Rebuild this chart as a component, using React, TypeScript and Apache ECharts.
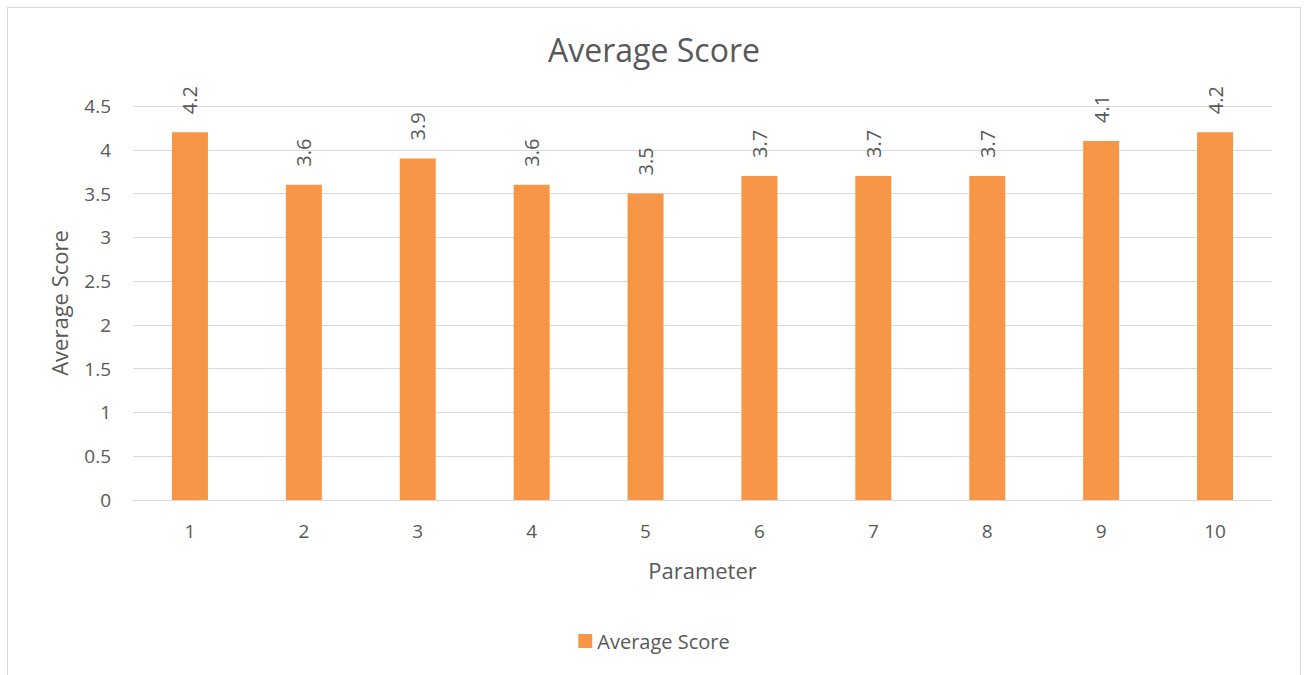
import React, { useEffect, useRef } from "react";
import * as echarts from "echarts";

const categories = ["1", "2", "3", "4", "5", "6", "7", "8", "9", "10"];
const averageScores = [4.2, 3.6, 3.9, 3.6, 3.5, 3.7, 3.7, 3.7, 4.1, 4.2];
const seriesName = "Average Score";

const FONT = "'Open Sans', 'Noto Sans', sans-serif";
const TEXT = "#595959";

export default function App() {
  const ref = useRef<HTMLDivElement>(null);
  useEffect(() => {
    if (!ref.current) return;
    const chart = echarts.init(ref.current, undefined, { renderer: "svg" });
    chart.setOption({
      animation: false,
      backgroundColor: "#ffffff",
      textStyle: { fontFamily: FONT, color: TEXT },
      title: {
        text: "Average Score",
        left: "center",
        top: 20,
        textStyle: { fontFamily: FONT, fontSize: 32, fontWeight: "normal", color: TEXT },
      },
      legend: {
        data: [seriesName],
        bottom: 30,
        left: "center",
        icon: "rect",
        itemWidth: 14,
        itemHeight: 14,
        itemGap: 5,
        textStyle: { fontFamily: FONT, fontSize: 20, color: TEXT },
      },
      grid: { left: 125, right: 28, top: 98, bottom: 186, containLabel: false },
      xAxis: {
        type: "category",
        data: categories,
        name: "Parameter",
        nameLocation: "middle",
        nameGap: 59,
        nameTextStyle: { fontFamily: FONT, fontSize: 22, color: TEXT },
        axisLine: { lineStyle: { color: "#d9d9d9" } },
        axisTick: { show: false },
        axisLabel: { fontFamily: FONT, fontSize: 19, color: TEXT, margin: 21 },
      },
      yAxis: {
        type: "value",
        min: 0,
        max: 4.5,
        interval: 0.5,
        name: "Average Score",
        nameLocation: "middle",
        nameGap: 63,
        nameTextStyle: { fontFamily: FONT, fontSize: 22, color: TEXT },
        axisLine: { show: false },
        axisTick: { show: false },
        splitLine: { lineStyle: { color: "#d9d9d9", width: 1 } },
        axisLabel: { fontFamily: FONT, fontSize: 19, color: TEXT, margin: 22 },
      },
      series: [
        {
          name: seriesName,
          type: "bar",
          data: averageScores,
          barWidth: 36,
          itemStyle: { color: "#F79646" },
          label: {
            show: true,
            position: "top",
            rotate: 90,
            align: "left",
            verticalAlign: "middle",
            distance: 15,
            offset: [3, 0],
            fontFamily: FONT,
            fontSize: 20,
            color: TEXT,
          },
        },
      ],
    });
    return () => chart.dispose();
  }, []);
  return (
    <div
      style={{
        position: "absolute",
        left: 7,
        top: 7,
        width: 1294,
        height: 680,
        border: "1px solid #d9d9d9",
        boxSizing: "border-box",
        background: "#fff",
      }}
    >
      <div ref={ref} style={{ width: 1292, height: 678 }} />
    </div>
  );
}
